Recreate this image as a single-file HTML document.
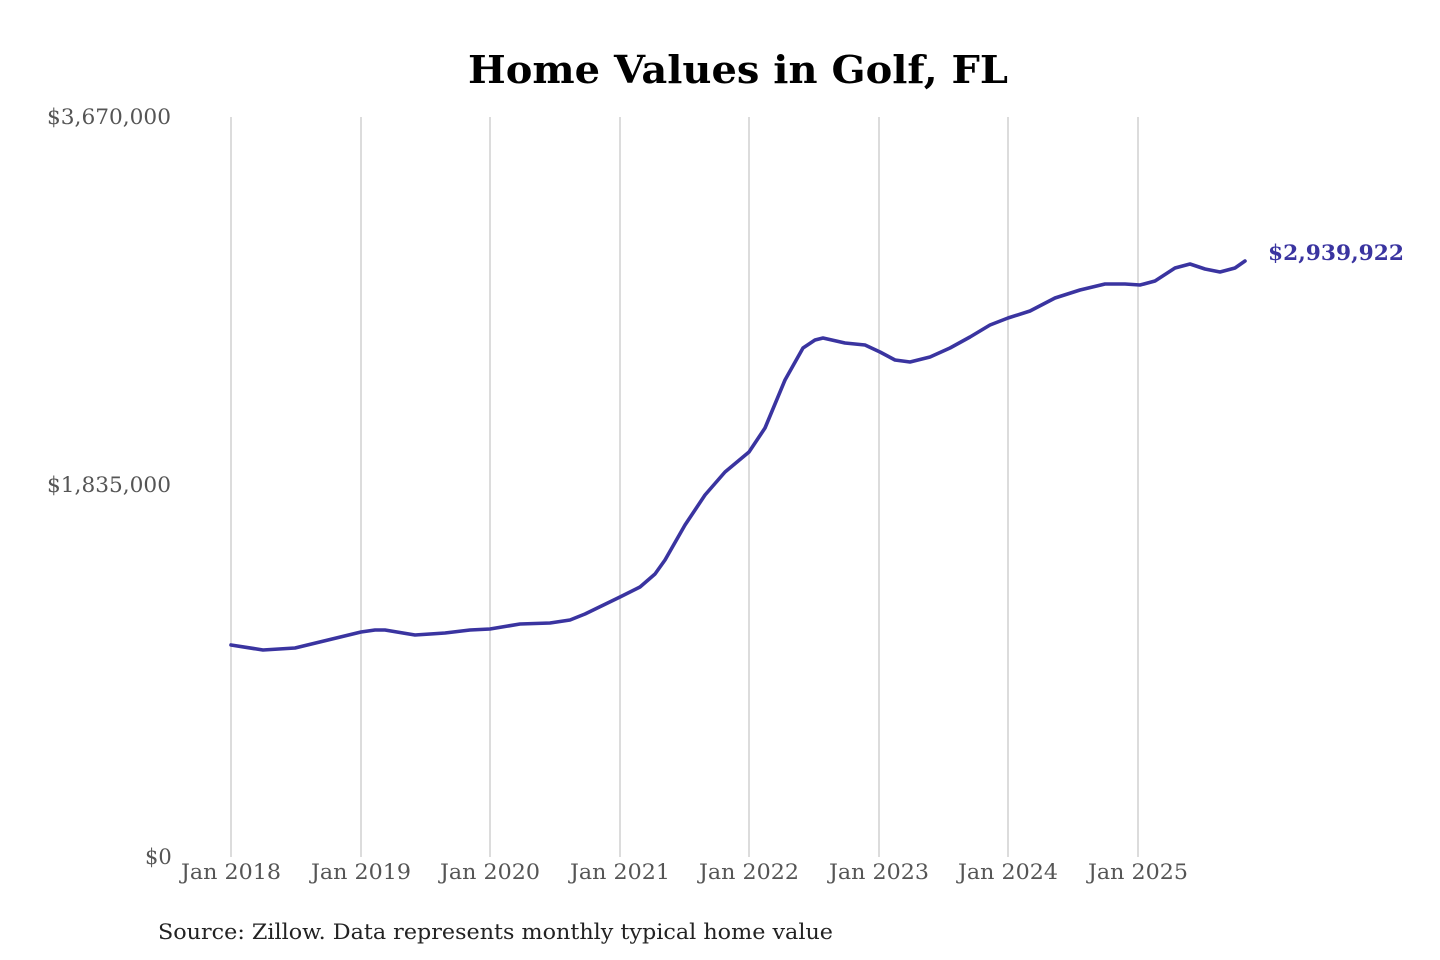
<!DOCTYPE html>
<html><head><meta charset="utf-8"><style>
html,body{margin:0;padding:0;background:#fff;width:1440px;height:960px;overflow:hidden}
svg{display:block}
text{font-family:"DejaVu Serif","Liberation Serif",serif}
</style></head><body>
<svg width="1440" height="960" viewBox="0 0 1440 960">
<text x="468" y="83" textLength="540" lengthAdjust="spacingAndGlyphs" font-size="38" font-weight="bold" fill="#000">Home Values in Golf, FL</text>
<g stroke="#c4c4c4" stroke-width="1.2">
<line x1="231" y1="117" x2="231" y2="857"/><line x1="361" y1="117" x2="361" y2="857"/>
<line x1="490" y1="117" x2="490" y2="857"/><line x1="620" y1="117" x2="620" y2="857"/>
<line x1="749" y1="117" x2="749" y2="857"/><line x1="879" y1="117" x2="879" y2="857"/>
<line x1="1008" y1="117" x2="1008" y2="857"/><line x1="1138" y1="117" x2="1138" y2="857"/>
</g>
<g font-size="21" fill="#555">
<text x="47" y="124" textLength="124" lengthAdjust="spacingAndGlyphs">$3,670,000</text>
<text x="47" y="492" textLength="124" lengthAdjust="spacingAndGlyphs">$1,835,000</text>
<text x="145" y="864">$0</text>
</g>
<g font-size="21" fill="#555">
<text x="181" y="879" textLength="100" lengthAdjust="spacingAndGlyphs">Jan 2018</text><text x="311" y="879" textLength="100" lengthAdjust="spacingAndGlyphs">Jan 2019</text>
<text x="440" y="879" textLength="100" lengthAdjust="spacingAndGlyphs">Jan 2020</text><text x="570" y="879" textLength="100" lengthAdjust="spacingAndGlyphs">Jan 2021</text>
<text x="699" y="879" textLength="100" lengthAdjust="spacingAndGlyphs">Jan 2022</text><text x="829" y="879" textLength="100" lengthAdjust="spacingAndGlyphs">Jan 2023</text>
<text x="958" y="879" textLength="100" lengthAdjust="spacingAndGlyphs">Jan 2024</text><text x="1088" y="879" textLength="100" lengthAdjust="spacingAndGlyphs">Jan 2025</text>
</g>
<path fill="none" stroke="#3a34a0" stroke-width="3.6" stroke-linejoin="round" stroke-linecap="round"
d="M231,645 L263,650 L295,648 L328,640 L361,632 L375,630 L385,630 L415,635 L445,633 L470,630 L490,629 L520,624 L550,623 L570,620 L585,614 L620,597 L640,587 L655,574 L665,560 L685,525 L705,495 L725,472 L749,452 L765,428 L785,380 L803,348 L815,340 L823,338 L845,343 L865,345 L880,352 L895,360 L910,362 L930,357 L950,348 L970,337 L990,325 L1008,318 L1030,311 L1055,298 L1080,290 L1105,284 L1125,284 L1140,285 L1155,281 L1175,268 L1190,264 L1205,269 L1220,272 L1235,268 L1245,261"/>
<text x="1268" y="260" textLength="136" lengthAdjust="spacingAndGlyphs" font-size="21" font-weight="bold" fill="#3a34a0">$2,939,922</text>
<text x="158" y="939" textLength="675" lengthAdjust="spacingAndGlyphs" font-size="21" fill="#222">Source: Zillow. Data represents monthly typical home value</text>
</svg>
</body></html>
